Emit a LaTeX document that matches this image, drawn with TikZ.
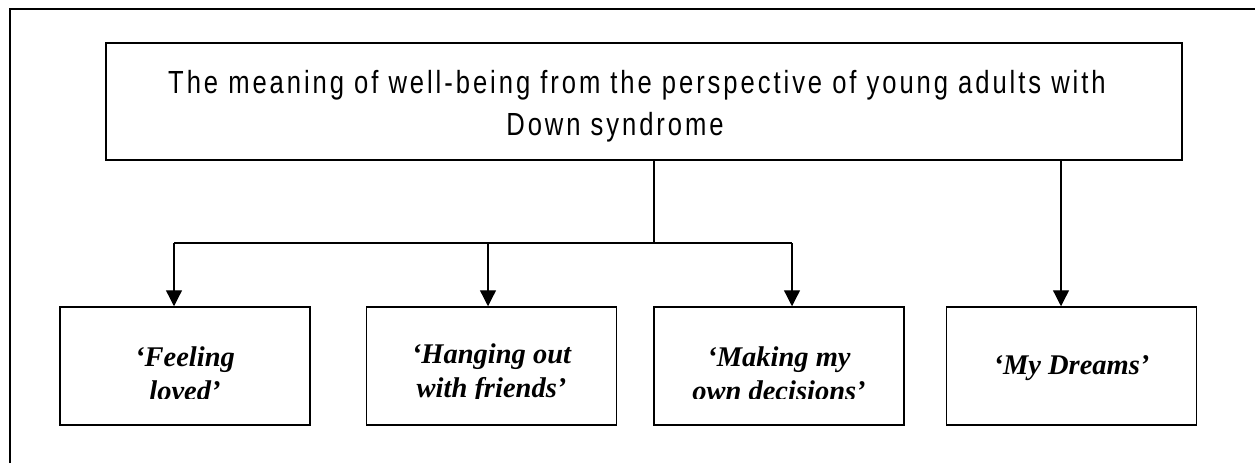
\documentclass[tikz,border=0pt]{standalone}
\usepackage{fontspec}
\setmainfont{Liberation Serif}
\newfontfamily\titlefont[FakeStretch=0.8,LetterSpace=9.2]{Liberation Sans}
\usetikzlibrary{arrows.meta}
\tikzset{
  frameline/.style={line width=2pt},
  boxline/.style={draw, line width=1.5pt},
  themebox/.style={boxline, minimum width=250pt, minimum height=118pt, inner sep=0pt},
  themetext/.style={align=center, font=\fontsize{28.5}{34}\selectfont\bfseries\itshape, inner sep=0pt},
  conn/.style={line width=1.3pt},
  arr/.style={conn, -{Triangle[width=16pt,length=16pt]}}
}
\begin{document}
\begin{tikzpicture}[x=1pt,y=-1pt]
\useasboundingbox (0,0) rectangle (1255,463);
\draw[frameline] (10,463) -- (10,9) -- (1255,9);
% title
\node[boxline, minimum width=1076pt, minimum height=117pt, inner sep=0pt] (title) at (644,101.5) {};
\node[align=center, font=\titlefont\fontsize{32}{42}\selectfont, inner sep=0pt] (titletext) at (637,106)
  {The meaning of well-being from the perspective of young adults with\\Down syndrome\hspace*{44pt}};
% theme boxes
\node[themebox] (b1) at (185,366) {};
\node[themebox] (b2) at (491.5,366) {};
\node[themebox] (b3) at (779,366) {};
\node[themebox] (b4) at (1071.5,366) {};
\begin{scope}
\clip (40,300) rectangle (930,398);
\node[themetext] (t1) at (185,374) {‘Feeling\\loved’};
\node[themetext] (t2) at (491.5,374) {‘Hanging out\\with friends’};
\node[themetext] (t3) at (779,374) {‘Making my\\own decisions’};
\end{scope}
\node[themetext] (t4) at (1071.5,368) {‘My Dreams’};
% connectors
\coordinate (hub) at (654,243);
\coordinate (hl) at (174,243);
\coordinate (hm) at (488,243);
\coordinate (hr) at (792,243);
\coordinate (dr) at (1061,0);
\draw[conn] (title.south -| hub) -- (hub);
\draw[conn] (hl) -- (hr);
\draw[arr] (hl) -- (b1.north -| hl);
\draw[arr] (hm) -- (b2.north -| hm);
\draw[arr] (hr) -- (b3.north -| hr);
\draw[arr] (title.south -| dr) -- (b4.north -| dr);
\end{tikzpicture}
\end{document}
